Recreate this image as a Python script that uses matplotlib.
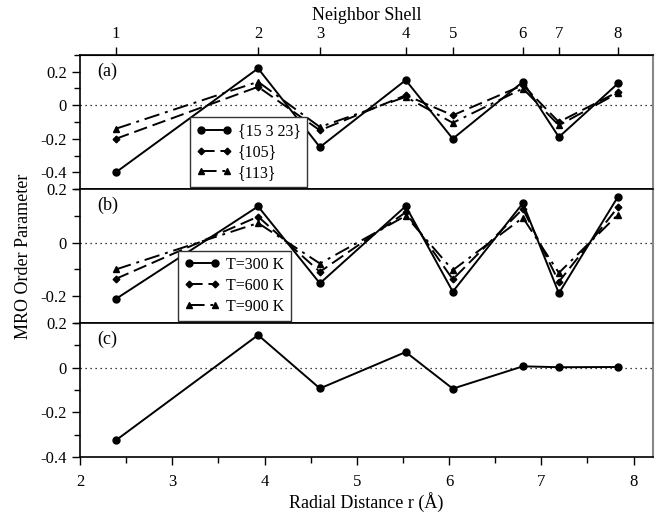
import matplotlib
matplotlib.use("Agg")
import matplotlib.pyplot as plt
from matplotlib.ticker import MultipleLocator, FixedLocator

plt.rcParams['font.family'] = ['Liberation Serif', 'DejaVu Serif']
plt.rcParams['mathtext.fontset'] = 'stix'

# Data
r_shell = [2.39, 3.93, 4.60, 5.53, 6.04, 6.80, 7.19, 7.83]
shell_labels = ['1', '2', '3', '4', '5', '6', '7', '8']

a_labels = ['{15 3 23}', '{105}', '{113}']
a_15_3_23 = [-0.40, 0.22, -0.25, 0.15, -0.20, 0.14, -0.19, 0.13]
a_105 = [-0.20, 0.11, -0.15, 0.06, -0.06, 0.12, -0.10, 0.08]
a_113 = [-0.14, 0.14, -0.13, 0.05, -0.105, 0.10, -0.12, 0.073]

b_labels = ['T=300 K', 'T=600 K', 'T=900 K']
b_300 = [-0.21, 0.135, -0.152, 0.136, -0.183, 0.147, -0.189, 0.171]
b_600 = [-0.135, 0.097, -0.109, 0.113, -0.137, 0.126, -0.146, 0.132]
b_900 = [-0.10, 0.073, -0.078, 0.10, -0.103, 0.093, -0.113, 0.104]

c_vals = [-0.325, 0.146, -0.093, 0.070, -0.094, 0.006, 0.002, 0.003]

fig = plt.figure(figsize=(6.68, 5.16), dpi=100)
left, right = 80/668, 653/668
top = 1 - 55/516
h = 134/516
axes = []
for i in range(3):
    ax = fig.add_axes([left, top - (i+1)*h, right-left, h])
    axes.append(ax)
axa, axb, axc = axes

styles = [dict(ls='-', marker='o', ms=5),
          dict(ls=(0, (7, 3)), marker='D', ms=3.4),
          dict(ls=(0, (8, 3, 1.5, 3)), marker='^', ms=4.6)]

for ax, series, labels in [(axa, [a_15_3_23, a_105, a_113], a_labels),
                           (axb, [b_300, b_600, b_900], b_labels)]:
    for s, lab, st in zip(series, labels, styles):
        ax.plot(r_shell, s, color='k', lw=1.4, label=lab, **st)

axc.plot(r_shell, c_vals, color='k', lw=1.4, marker='o', ms=5)

ylims = [(-0.5, 0.3), (-0.3, 0.2), (-0.4, 0.2)]
yticks = [[-0.4, -0.2, 0, 0.2], [-0.2, 0, 0.2], [-0.4, -0.2, 0, 0.2]]

def fmt(v):
    if abs(v) < 1e-9:
        return '0'
    return ('-' if v < 0 else '') + ('%.1f' % abs(v))

for ax, yl, yt in zip(axes, ylims, yticks):
    ax.set_xlim(2, 8.21)
    ax.set_ylim(*yl)
    ax.axhline(0, color='k', ls=(0, (1, 3)), lw=0.9, zorder=0)
    ax.yaxis.set_major_locator(FixedLocator(yt))
    ax.set_yticklabels([fmt(v) for v in yt])
    ax.yaxis.set_minor_locator(MultipleLocator(0.1))
    ax.tick_params(axis='y', which='major', direction='out', length=6, width=1, labelsize=12)
    ax.tick_params(axis='y', which='minor', direction='out', length=4, width=1)
    ax.tick_params(axis='y', right=False, which='both')
    ax.spines['right'].set_color('#888888')
    ax.spines['right'].set_linewidth(1.5)
    for sp in ['left', 'top', 'bottom']:
        ax.spines[sp].set_linewidth(1.2)
    if ax is not axc:
        ax.tick_params(axis='x', which='both', bottom=False, labelbottom=False)

axc.xaxis.set_major_locator(MultipleLocator(1))
axc.xaxis.set_minor_locator(MultipleLocator(0.5))
axc.tick_params(axis='x', which='major', direction='out', length=6, width=1, labelsize=12, pad=6)
axc.tick_params(axis='x', which='minor', direction='out', length=4, width=1)
axc.set_xlabel('Radial Distance r (Å)', fontsize=13, labelpad=2)

# top axis: neighbor shells
tax = axa.secondary_xaxis('top')
tax.set_xticks(r_shell)
tax.set_xticklabels(shell_labels)
tax.tick_params(direction='out', length=6, width=1, labelsize=12)
tax.set_xlabel('Neighbor Shell', fontsize=13, labelpad=4)

for ax, t in zip(axes, ['(a)', '(b)', '(c)']):
    ax.text(0.03, 0.88, t, transform=ax.transAxes, fontsize=13, va='center', ha='left')

leg_kw = dict(fontsize=11.5, numpoints=2, handlelength=2.2, handletextpad=0.4,
              fancybox=False, edgecolor='#333333', framealpha=1, borderpad=0.4,
              labelspacing=0.3, borderaxespad=0)
la = axa.legend(loc='lower left', bbox_to_anchor=(0.192, 0.012), **leg_kw)
lb = axb.legend(loc='lower left', bbox_to_anchor=(0.171, 0.015), **leg_kw)

fig.text(24/668, 1 - 256/516, 'MRO Order Parameter', rotation=90, fontsize=13,
         va='center', ha='center')

fig.savefig('out.png', dpi=100)
